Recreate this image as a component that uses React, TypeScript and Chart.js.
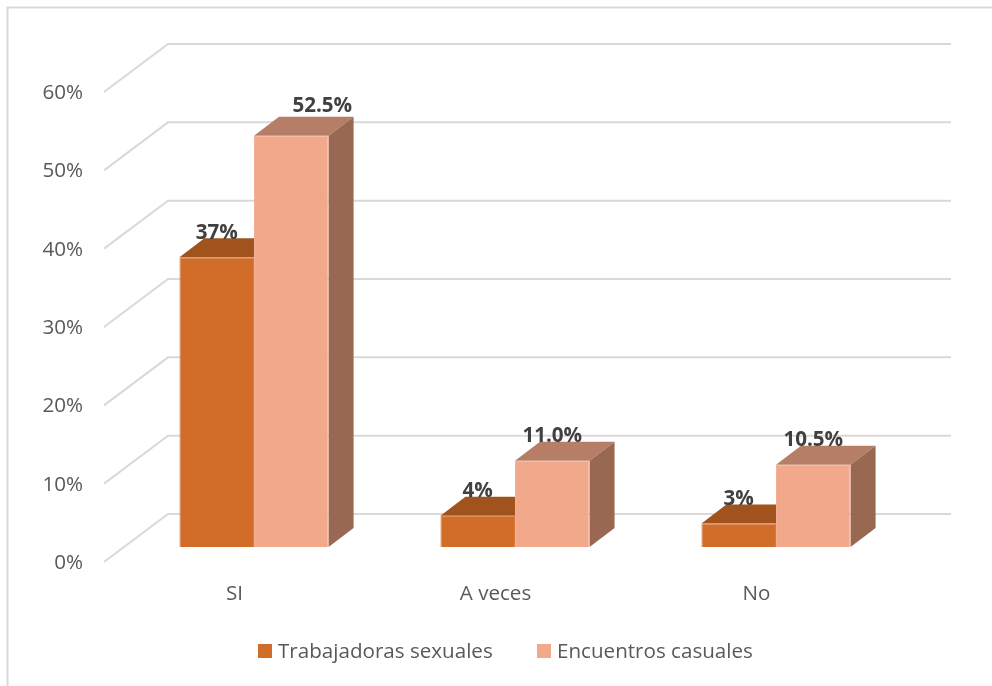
import React, { useEffect, useRef } from "react";
import { Chart, registerables } from "chart.js";

Chart.register(...registerables);

const categories = ["SI", "A veces", "No"];
const trabajadoras = [37, 4, 3];
const encuentros = [52.5, 11.0, 10.5];
const trabajadorasLabels = ["37%", "4%", "3%"];
const encuentrosLabels = ["52.5%", "11.0%", "10.5%"];
const seriesNames = ["Trabajadoras sexuales", "Encuentros casuales"];

const FONT = '"Open Sans", sans-serif';
const FONT_SIZE = 20.6;
const FRONT = ["#D16D29", "#F2A88B"];
const EDGE = ["#D97A3A", "#F4B096"];
const TOP = ["#A0531C", "#B77E67"];
const SIDE = ["#8A4A1A", "#996853"];
const GRID = "#D9D9D9";
const TEXT = "#595959";

// 3-D projection of the chart's floor
const WALL_DX = 64;
const WALL_DY = -48;
const BAR_SHIFT_X = 19.5;
const BAR_SHIFT_Y = -15;
const BAR_DEPTH_X = 25;
const BAR_DEPTH_Y = -19;

const poly = (ctx: CanvasRenderingContext2D, pts: number[][], fill: string) => {
  ctx.beginPath();
  pts.forEach(([x, y], i) => (i ? ctx.lineTo(x, y) : ctx.moveTo(x, y)));
  ctx.closePath();
  ctx.fillStyle = fill;
  ctx.fill();
};

const drawFaces = (chart: any, i: number) => {
  const { ctx } = chart;
  for (const el of chart.getDatasetMeta(i).data) {
    const l = el.x - el.width / 2;
    const r = el.x + el.width / 2;
    poly(ctx, [[l, el.y], [r, el.y], [r + BAR_DEPTH_X, el.y + BAR_DEPTH_Y], [l + BAR_DEPTH_X, el.y + BAR_DEPTH_Y]], TOP[i]);
    poly(ctx, [[r, el.y], [r + BAR_DEPTH_X, el.y + BAR_DEPTH_Y], [r + BAR_DEPTH_X, el.base + BAR_DEPTH_Y], [r, el.base]], SIDE[i]);
  }
};

const wallPlugin = {
  id: "wall",
  beforeDatasetsDraw(chart: any) {
    const { ctx, chartArea, scales } = chart;
    ctx.save();
    ctx.strokeStyle = GRID;
    ctx.lineWidth = 2;
    ctx.beginPath();
    ctx.moveTo(7.5, chart.height);
    ctx.lineTo(7.5, 7.5);
    ctx.lineTo(chart.width, 7.5);
    ctx.stroke();
    for (const t of scales.y.ticks) {
      const y = scales.y.getPixelForValue(t.value);
      ctx.beginPath();
      ctx.moveTo(chartArea.left, y);
      ctx.lineTo(chartArea.left + WALL_DX, y + WALL_DY);
      ctx.lineTo(chartArea.right + WALL_DX, y + WALL_DY);
      ctx.stroke();
    }
    // faces of the first series lie behind the second series
    ctx.translate(BAR_SHIFT_X, BAR_SHIFT_Y);
    drawFaces(chart, 0);
    ctx.restore();
  },
  beforeDatasetDraw(chart: any, args: any) {
    const { ctx } = chart;
    ctx.save();
    ctx.translate(BAR_SHIFT_X, BAR_SHIFT_Y);
    if (args.index === 1) drawFaces(chart, 1);
  },
  afterDatasetDraw(chart: any) {
    chart.ctx.restore();
  },
  afterDatasetsDraw(chart: any) {
    const { ctx } = chart;
    ctx.save();
    ctx.fillStyle = "#404040";
    ctx.font = `bold ${FONT_SIZE}px ${FONT}`;
    ctx.textAlign = "center";
    ctx.textBaseline = "middle";
    [trabajadorasLabels, encuentrosLabels].forEach((labels, i) => {
      const meta = chart.getDatasetMeta(i);
      labels.forEach((label, j) => {
        const el = meta.data[j];
        const isTall = i === 1 && j === 0;
        const dx = isTall ? 31 : 0;
        const dy = isTall ? -30 : -24.5;
        ctx.fillText(label, el.x + BAR_SHIFT_X + dx, el.y + BAR_SHIFT_Y + dy);
      });
    });
    ctx.restore();
  },
  afterDraw(chart: any) {
    const { ctx } = chart;
    ctx.save();
    ctx.font = `${FONT_SIZE}px ${FONT}`;
    ctx.textBaseline = "middle";
    const y = 652;
    const starts = [258, 537];
    seriesNames.forEach((name, i) => {
      ctx.fillStyle = FRONT[i];
      ctx.fillRect(starts[i], y - 8, 14, 14);
      ctx.fillStyle = TEXT;
      ctx.fillText(name, starts[i] + 20, y);
    });
    ctx.restore();
  },
};

export default function App() {
  const ref = useRef<HTMLCanvasElement>(null);
  useEffect(() => {
    const chart = new Chart(ref.current!, {
      type: "bar",
      data: {
        labels: categories,
        datasets: [
          { label: seriesNames[0], data: trabajadoras, backgroundColor: FRONT[0], borderColor: EDGE[0], borderWidth: 1 },
          { label: seriesNames[1], data: encuentros, backgroundColor: FRONT[1], borderColor: EDGE[1], borderWidth: 1 },
        ],
      },
      options: {
        animation: false,
        responsive: false,
        layout: { padding: { top: 92, right: 105, bottom: 55, left: 0 } },
        datasets: { bar: { categoryPercentage: 0.5714, barPercentage: 1 } },
        plugins: { legend: { display: false }, tooltip: { enabled: false } },
        scales: {
          x: {
            grid: { display: false },
            border: { display: false },
            ticks: { color: TEXT, font: { family: FONT, size: FONT_SIZE }, padding: 12, maxRotation: 0 },
            afterFit: (s: any) => { s.height = 69; },
          },
          y: {
            min: 0,
            max: 60,
            grid: { display: false },
            border: { display: false },
            ticks: {
              stepSize: 10,
              color: TEXT,
              font: { family: FONT, size: FONT_SIZE },
              padding: 13,
              labelOffset: 1,
              callback: (v: any) => `${v}%`,
            },
            afterFit: (s: any) => { s.width = 104; },
          },
        },
      },
      plugins: [wallPlugin],
    } as any);
    return () => chart.destroy();
  }, []);
  return (
    <canvas
      ref={ref}
      width={992}
      height={686}
      style={{ position: "absolute", left: 0, top: 0, width: 992, height: 686 }}
    />
  );
}
